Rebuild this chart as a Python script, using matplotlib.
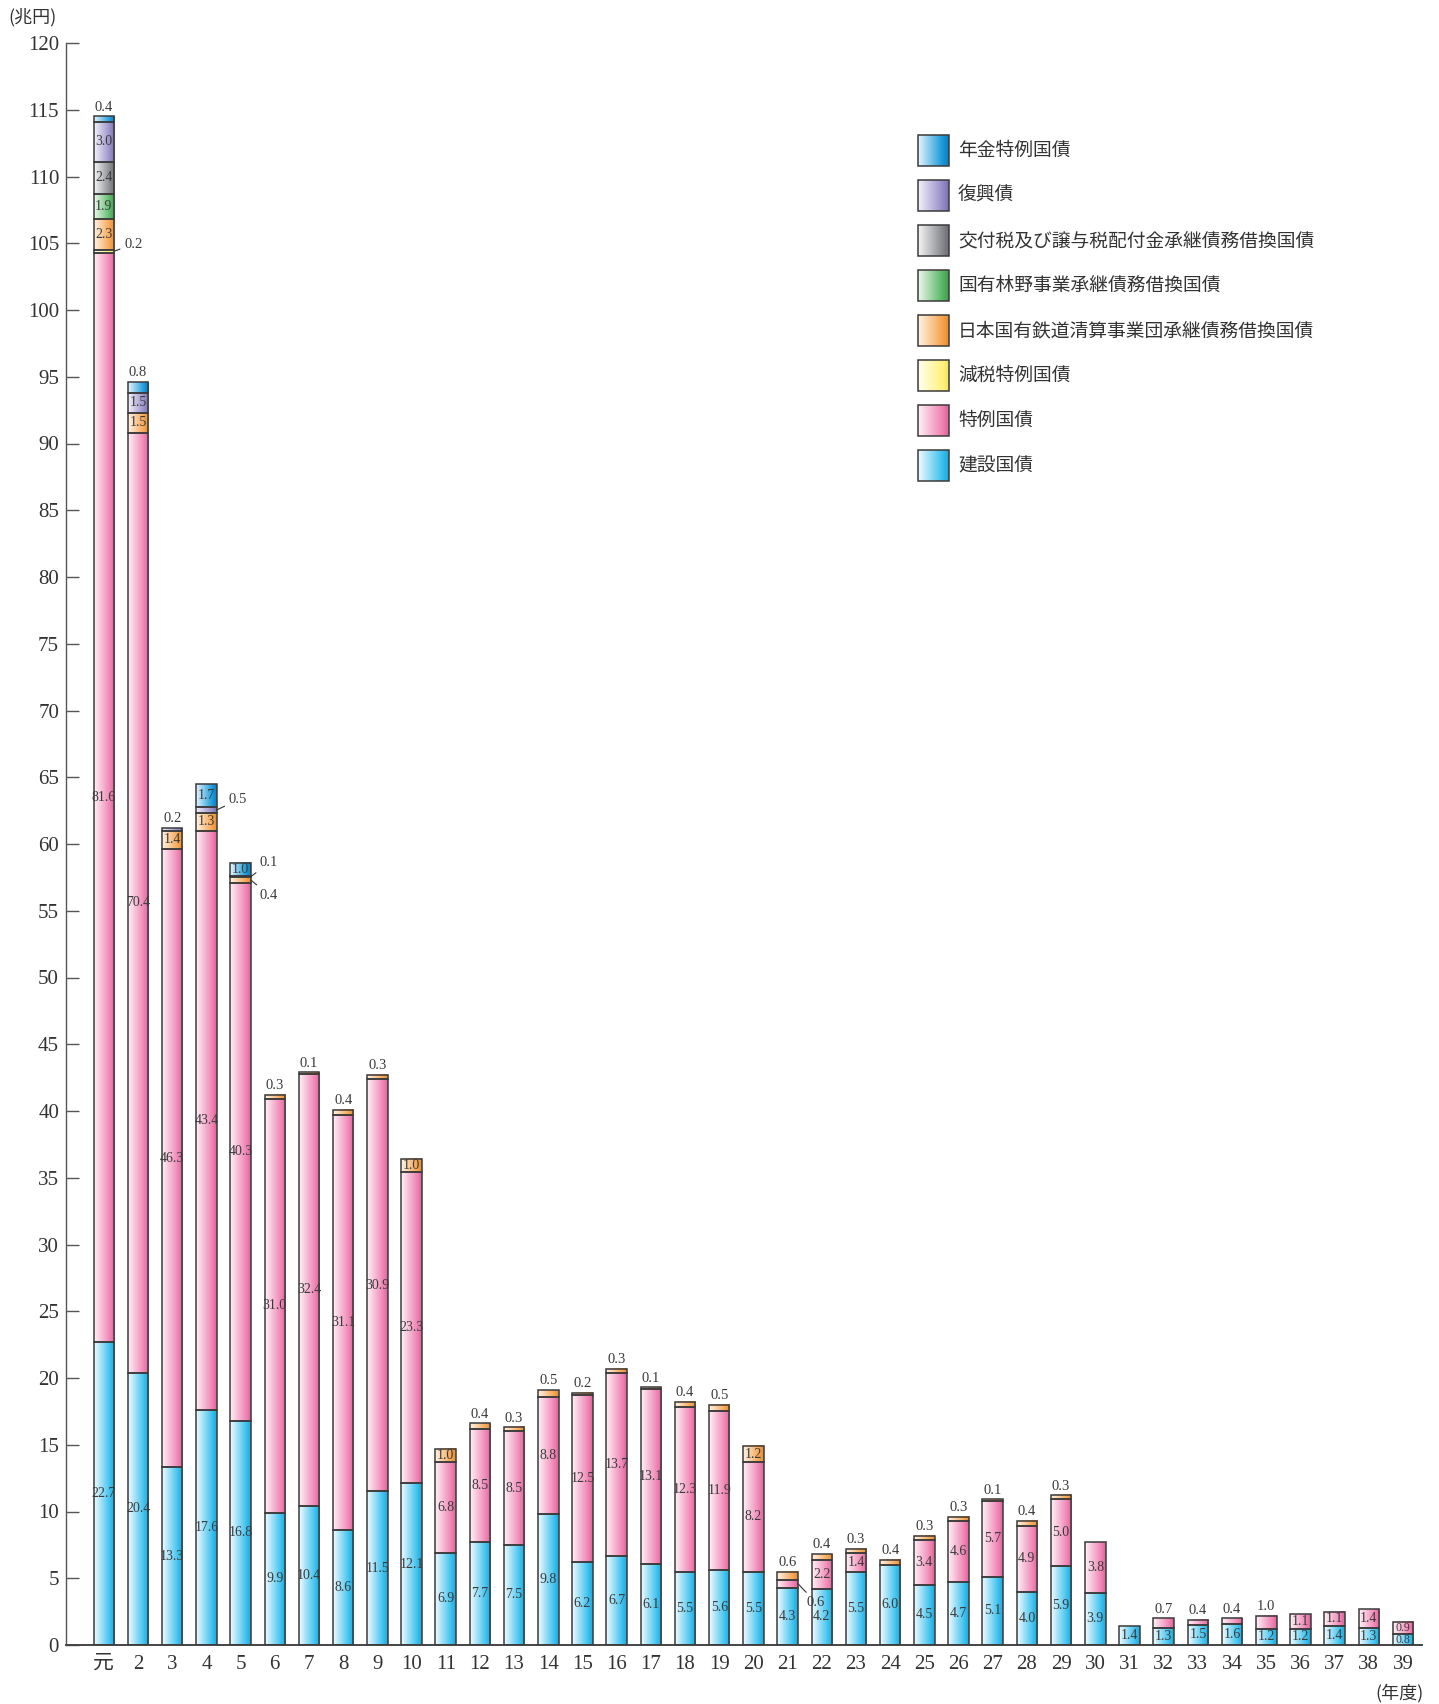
import numpy as np
import matplotlib
matplotlib.use("Agg")
import matplotlib.pyplot as plt
from matplotlib.colors import LinearSegmentedColormap
from matplotlib.patches import Rectangle

plt.rcParams['font.family'] = ['serif', 'Noto Sans CJK JP']
plt.rcParams['font.serif'] = ['Liberation Serif', 'DejaVu Serif']

# 年度 (元 = first year)
years = ['元'] + [str(i) for i in range(2, 40)]

# values in 兆円, bottom -> top
kensetsu = [22.7, 20.4, 13.3, 17.6, 16.8, 9.9, 10.4, 8.6, 11.5, 12.1,
            6.9, 7.7, 7.5, 9.8, 6.2, 6.7, 6.1, 5.5, 5.6, 5.5,
            4.3, 4.2, 5.5, 6.0, 4.5, 4.7, 5.1, 4.0, 5.9, 3.9,
            1.4, 1.3, 1.5, 1.6, 1.2, 1.2, 1.4, 1.3, 0.8]
tokurei = [81.6, 70.4, 46.3, 43.4, 40.3, 31.0, 32.4, 31.1, 30.9, 23.3,
           6.8, 8.5, 8.5, 8.8, 12.5, 13.7, 13.1, 12.3, 11.9, 8.2,
           0.6, 2.2, 1.4, 0, 3.4, 4.6, 5.7, 4.9, 5.0, 3.8,
           0, 0.7, 0.4, 0.4, 1.0, 1.1, 1.1, 1.4, 0.9]
genzei = [0.2] + [0] * 38
kokutetsu = [2.3, 1.5, 1.4, 1.3, 0.4, 0.3, 0.1, 0.4, 0.3, 1.0,
             1.0, 0.4, 0.3, 0.5, 0.2, 0.3, 0.1, 0.4, 0.5, 1.2,
             0.6, 0.4, 0.3, 0.4, 0.3, 0.3, 0.1, 0.4, 0.3, 0,
             0, 0, 0, 0, 0, 0, 0, 0, 0]
rinya = [1.9] + [0] * 38
kofuzei = [2.4] + [0] * 38
fukko = [3.0, 1.5, 0.2, 0.5, 0.1] + [0] * 34
nenkin = [0.4, 0.8, 0, 1.7, 1.0] + [0] * 34

names = ['建設国債', '特例国債', '減税特例国債', '日本国有鉄道清算事業団承継債務借換国債',
         '国有林野事業承継債務借換国債', '交付税及び譲与税配付金承継債務借換国債',
         '復興債', '年金特例国債']
data = [kensetsu, tokurei, genzei, kokutetsu, rinya, kofuzei, fukko, nenkin]

# gradient colours: light (left) -> saturated -> edge
colors = [('#f3fbfe', '#36bfee', '#1ea6d6'),
          ('#fef2f7', '#ef80b1', '#d9629a'),
          ('#fffff2', '#fff27c', '#f2e25a'),
          ('#fff4e8', '#f5a24c', '#e88a2c'),
          ('#eef8ee', '#56b562', '#3f9c4b'),
          ('#f6f6f6', '#85878c', '#6b6d72'),
          ('#f3f2fa', '#958bc6', '#7b70b0'),
          ('#e8f5fc', '#1698d8', '#0a7fbf')]

# labels drawn beside the bar with a short leader (series, bar): offset px
leaders = {(2, 0): (10, 7), (6, 3): (12, 10), (6, 4): (9, 14),
           (3, 4): (9, -15), (1, 20): (9, -19)}
force_above = {(1, 34)}
force_inside = {(1, 38)}

W, H = 1439, 1704
fig = plt.figure(figsize=(W / 100, H / 100), dpi=100)
ax = fig.add_axes([66 / W, 59 / H, 1356 / W, 1602 / H])

x = np.arange(len(years))
bw = 0.6
grad = np.linspace(0, 1, 256).reshape(1, -1)
txt_col = '#3a3a3a'
px = 0.72  # points per pixel

arr = np.array(data, dtype=float)
bottoms = np.vstack([np.zeros(len(years)), np.cumsum(arr, axis=0)[:-1]])
totals = arr.sum(axis=0)
top_series = [max(i for i in range(len(data)) if arr[i, j] > 0) for j in range(len(years))]

for si, (vals, (c0, c1, c2)) in enumerate(zip(arr, colors)):
    mask = vals > 0
    bars = ax.bar(x[mask], vals[mask], width=bw, bottom=bottoms[si][mask],
                  facecolor='none', edgecolor='#3a3a3a', linewidth=1.1, zorder=3)
    cmap = LinearSegmentedColormap.from_list('c%d' % si, [(0, c0), (0.8, c1), (1, c2)])
    for b in bars:
        ax.imshow(grad, extent=[b.get_x(), b.get_x() + b.get_width(),
                                b.get_y(), b.get_y() + b.get_height()],
                  cmap=cmap, aspect='auto', interpolation='bilinear', zorder=2)

    # value labels
    for j in np.where(mask)[0]:
        v = vals[j]
        lab = '%.1f' % v
        ymid = bottoms[si][j] + v / 2
        key = (si, j)
        if key in leaders:
            dx, dy = leaders[key]
            ax.annotate(lab, xy=(j + bw / 2, ymid), xytext=(dx * px, dy * px),
                        textcoords='offset points', ha='left', va='center',
                        fontsize=10.5, color=txt_col, zorder=5,
                        arrowprops=dict(arrowstyle='-', lw=0.8, color='#333',
                                        shrinkA=1, shrinkB=0))
        elif key not in force_inside and top_series[j] == si and (v < 1.0 or key in force_above):
            ax.annotate(lab, xy=(j, totals[j]), xytext=(0, 2),
                        textcoords='offset points', ha='center', va='bottom',
                        fontsize=10.5, color=txt_col, zorder=5)
        else:
            ax.text(j, ymid, lab, ha='center', va='center', fontsize=10 if v >= 1 else 8.5,
                    color=txt_col, zorder=5)

ax.set_xlim(-1.106, 38.555)
ax.set_ylim(0, 120)
ax.set_aspect('auto')
ax.set_yticks(range(0, 121, 5))
ax.set_xticks(x)
ax.set_xticklabels(years)
ax.tick_params(axis='y', direction='in', length=9.5, width=1, color='#555', pad=5,
               labelsize=15, labelcolor='#333')
ax.tick_params(axis='x', length=0, pad=7, labelsize=15, labelcolor='#333')
for s in ['top', 'right']:
    ax.spines[s].set_visible(False)
ax.spines['left'].set_color('#555')
ax.spines['left'].set_linewidth(1.0)
ax.spines['bottom'].set_color('#444')
ax.spines['bottom'].set_linewidth(1.4)

# overlay in pixel units for legend and unit captions
lax = fig.add_axes([0, 0, 1, 1])
lax.set_xlim(0, W)
lax.set_ylim(H, 0)
lax.axis('off')

for k, si in enumerate(reversed(range(len(names)))):
    top = 135 + 45 * k
    c0, c1, c2 = colors[si]
    cmap = LinearSegmentedColormap.from_list('l%d' % si, [(0, c0), (0.8, c1), (1, c2)])
    lax.imshow(grad, extent=[918, 949, top + 31, top], cmap=cmap, aspect='auto',
               interpolation='bilinear', zorder=2)
    lax.add_patch(Rectangle((918, top), 31, 31, facecolor='none', edgecolor='#3a3a3a',
                            linewidth=1.1, zorder=3))
    lax.text(958, top + 15.5, names[si], ha='left', va='center', fontsize=13.5,
             color='#333', family=['Noto Sans CJK JP'])
lax.set_xlim(0, W)
lax.set_ylim(H, 0)
lax.set_aspect('auto')

lax.text(8, 17, '(兆円)', ha='left', va='center', fontsize=13, color='#333',
         family=['Noto Sans CJK JP'])
lax.text(1424, 1693, '(年度)', ha='right', va='center', fontsize=13, color='#333',
         family=['Noto Sans CJK JP'])

fig.savefig('out.png', dpi=100)
